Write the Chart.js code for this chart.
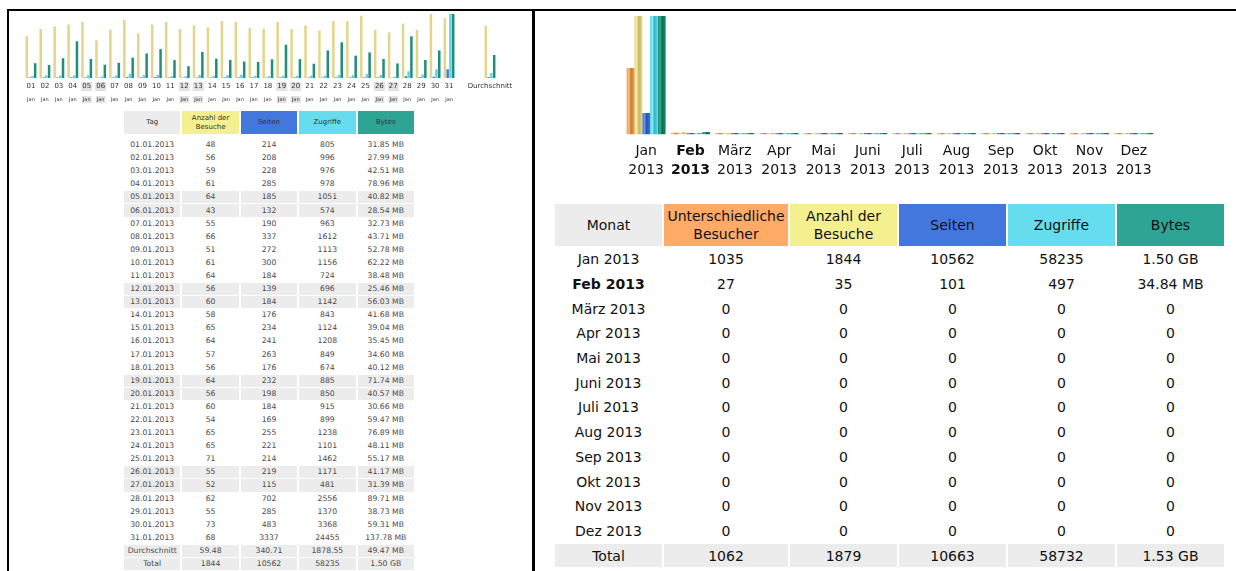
<!DOCTYPE html>
<html>
<head>
<meta charset="utf-8">
<script src="https://cdn.jsdelivr.net/npm/chart.js@4.4.0/dist/chart.umd.min.js"></script>
<style>
body { margin:0; width:1236px; height:571px; overflow:hidden; background:#fff; position:relative; font-family:'DejaVu Sans', Verdana, sans-serif; }
.line { position:absolute; background:#000; }
.wrap { position:absolute; }
table { position:absolute; border-collapse:separate; }
td { padding:0; text-align:center; white-space:nowrap; }
#dayTable { left:122px; top:110px; border-spacing:2px 1px; font-size:7.7px; color:#4a4a4a; }
#dayTable td { width:56.4px; height:12.1px; line-height:12px; }
#dayTable tr.head td { height:23px; line-height:9px; font-size:7px; color:#333; border-bottom:4px solid #fff; }
#monthTable { left:553px; top:202px; border-spacing:2px 2px; font-size:14px; color:#111; }
#monthTable td { width:107px; height:22.7px; line-height:18px; }
#monthTable tr.head td { height:42px; }
.gray td, td.gray { background:#ececec; }
.cu { background:#ffaa66; } .cv { background:#f4f090; } .cp { background:#4477dd; } .ch { background:#66ddee; } .ck { background:#2ea495; }
</style>
</head>
<body>
<div class="line" style="left:7px;top:9px;width:1229px;height:2px"></div>
<div class="line" style="left:7px;top:9px;width:2px;height:562px"></div>
<div class="line" style="left:532px;top:9px;width:3px;height:562px"></div>

<div class="wrap" style="left:20px;top:8px"><canvas id="dayChart" width="440" height="96"></canvas></div>
<div class="wrap" style="left:455px;top:8px"><canvas id="avgChart" width="70" height="96"></canvas></div>
<table id="dayTable"></table>

<div class="wrap" style="left:600px;top:8px"><canvas id="monthChart" width="580" height="179"></canvas></div>
<table id="monthTable"></table>

<script>
// Tage Januar 2013
const dayNum = ['01','02','03','04','05','06','07','08','09','10','11','12','13','14','15','16','17','18','19','20','21','22','23','24','25','26','27','28','29','30','31'];
const dayMonth = ['Jan','Jan','Jan','Jan','Jan','Jan','Jan','Jan','Jan','Jan','Jan','Jan','Jan','Jan','Jan','Jan','Jan','Jan','Jan','Jan','Jan','Jan','Jan','Jan','Jan','Jan','Jan','Jan','Jan','Jan','Jan'];
const weekendDays = ['05','06','12','13','19','20','26','27'];
const dayVisits = [48,56,59,61,64,43,55,66,51,61,64,56,60,58,65,64,57,56,64,56,60,54,65,65,71,55,52,62,55,73,68];
const dayPages = [214,208,228,285,185,132,190,337,272,300,184,139,184,176,234,241,263,176,232,198,184,169,255,221,214,219,115,702,285,483,3337];
const dayHits = [805,996,976,978,1051,574,963,1612,1113,1156,724,696,1142,843,1124,1208,849,674,885,850,915,899,1238,1101,1462,1171,481,2556,1370,3368,24455];
const dayBytes = [31.85,27.99,42.51,78.96,40.82,28.54,32.73,43.71,52.78,62.22,38.48,25.46,56.03,41.68,39.04,35.45,34.60,40.12,71.74,40.57,30.66,59.47,76.89,48.11,55.17,41.17,31.39,89.71,38.73,59.31,137.78];
const dayAvg = [59.48, 340.71, 1878.55, 49.47];
const dayTotal = ['1844', '10562', '58235', '1.50 GB'];

// Monate 2013
const months = ['Jan','Feb','März','Apr','Mai','Juni','Juli','Aug','Sep','Okt','Nov','Dez'];
const year = '2013';
const currentMonth = 1;
const monthUnique = [1035,27,0,0,0,0,0,0,0,0,0,0];
const monthVisits = [1844,35,0,0,0,0,0,0,0,0,0,0];
const monthPages = [10562,101,0,0,0,0,0,0,0,0,0,0];
const monthHits = [58235,497,0,0,0,0,0,0,0,0,0,0];
const monthBytes = [1536,34.84,0,0,0,0,0,0,0,0,0,0]; // MB
const monthTotal = ['1062','1879','10663','58732','1.53 GB'];

const FONT = "'DejaVu Sans', Verdana, sans-serif";

function fmtBytes(mb) {
  if (mb >= 1024) return (mb / 1024).toFixed(2) + ' GB';
  if (mb > 0) return mb.toFixed(2) + ' MB';
  return '0';
}

// ---- Tabelle Tage
let html = '<tr class="head"><td class="gray">Tag</td><td class="cv">Anzahl der<br>Besuche</td><td class="cp">Seiten</td><td class="ch">Zugriffe</td><td class="ck">Bytes</td></tr>';
dayNum.forEach(function (d, i) {
  const cls = weekendDays.includes(d) ? ' class="gray"' : '';
  html += '<tr' + cls + '><td>' + d + '.01.2013</td><td>' + dayVisits[i] + '</td><td>' + dayPages[i] + '</td><td>' + dayHits[i] + '</td><td>' + fmtBytes(dayBytes[i]) + '</td></tr>';
});
html += '<tr class="gray"><td>Durchschnitt</td><td>' + dayAvg[0].toFixed(2) + '</td><td>' + dayAvg[1].toFixed(2) + '</td><td>' + dayAvg[2].toFixed(2) + '</td><td>' + fmtBytes(dayAvg[3]) + '</td></tr>';
html += '<tr class="gray"><td>Total</td><td>' + dayTotal.join('</td><td>') + '</td></tr>';
document.getElementById('dayTable').innerHTML = html;

// ---- Tabelle Monate
html = '<tr class="head"><td class="gray">Monat</td><td class="cu" style="width:124px">Unterschiedliche<br>Besucher</td><td class="cv">Anzahl der<br>Besuche</td><td class="cp">Seiten</td><td class="ch">Zugriffe</td><td class="ck">Bytes</td></tr>';
months.forEach(function (m, i) {
  const st = i === currentMonth ? ' style="font-weight:bold"' : '';
  html += '<tr><td' + st + '>' + m + ' ' + year + '</td><td>' + monthUnique[i] + '</td><td>' + monthVisits[i] + '</td><td>' + monthPages[i] + '</td><td>' + monthHits[i] + '</td><td>' + fmtBytes(monthBytes[i]) + '</td></tr>';
});
html += '<tr class="gray"><td>Total</td><td>' + monthTotal.join('</td><td>') + '</td></tr>';
document.getElementById('monthTable').innerHTML = html;

// ---- Charts
function hiddenY(max) { return { display: false, min: 0, max: max }; }

function bar(data, color, axis) {
  return { data: data, backgroundColor: color, yAxisID: axis, borderWidth: 0 };
}

// horizontaler Verlauf wie die awstats-Balkenbilder
function shade(base, light, dark) {
  return function (c) {
    const el = c.element;
    if (!el || el.x === undefined || !el.width) return base;
    const g = c.chart.ctx.createLinearGradient(el.x - el.width / 2, 0, el.x + el.width / 2, 0);
    g.addColorStop(0, base);
    g.addColorStop(0.3, light);
    g.addColorStop(0.55, dark);
    g.addColorStop(1, base);
    return g;
  };
}

function smallAxis(labels, size, pad, backdrop) {
  return {
    type: 'category', labels: labels, offset: true,
    grid: { display: false, drawTicks: false }, border: { display: false },
    ticks: {
      autoSkip: false, maxRotation: 0, padding: pad, color: '#333',
      font: { family: FONT, size: size, lineHeight: 1 },
      showLabelBackdrop: backdrop, backdropColor: '#e2e2e2', backdropPadding: { x: 1, y: 1 }
    }
  };
}

const maxVisits = Math.max(...dayVisits);
const maxHits = Math.max(...dayHits);
const maxBytes = Math.max(...dayBytes);
const isWeekend = function (c) { return weekendDays.includes(dayNum[c.index]); };

const baseOpts = {
  responsive: false, animation: false,
  plugins: { legend: { display: false }, tooltip: { enabled: false } }
};

new Chart(document.getElementById('dayChart'), {
  type: 'bar',
  data: {
    labels: dayNum,
    datasets: [
      bar(dayVisits, '#e3d58a', 'yV'),
      bar(dayPages, '#4a78d8', 'yH'),
      bar(dayHits, '#5fd3e2', 'yH'),
      bar(dayBytes, '#1f8f78', 'yB')
    ]
  },
  options: Object.assign({}, baseOpts, {
    layout: { padding: { left: 4, right: 4, top: 6, bottom: 0 } },
    datasets: { bar: { categoryPercentage: 0.8, barPercentage: 0.9 } },
    scales: {
      x: smallAxis(dayNum, 7, 5, isWeekend),
      x2: smallAxis(dayMonth, 5, 2, isWeekend),
      yV: hiddenY(maxVisits), yH: hiddenY(maxHits), yB: hiddenY(maxBytes)
    }
  })
});

new Chart(document.getElementById('avgChart'), {
  type: 'bar',
  data: {
    labels: ['Durchschnitt'],
    datasets: [
      bar([dayAvg[0]], '#e3d58a', 'yV'),
      bar([dayAvg[1]], '#4a78d8', 'yH'),
      bar([dayAvg[2]], '#5fd3e2', 'yH'),
      bar([dayAvg[3]], '#1f8f78', 'yB')
    ]
  },
  options: Object.assign({}, baseOpts, {
    layout: { padding: { left: 0, right: 0, top: 6, bottom: 0 } },
    datasets: { bar: { categoryPercentage: 0.16, barPercentage: 0.9 } },
    scales: {
      x: smallAxis(['Durchschnitt'], 7, 5, false),
      x2: smallAxis([' '], 5, 2, false),
      yV: hiddenY(maxVisits), yH: hiddenY(maxHits), yB: hiddenY(maxBytes)
    }
  })
});

const monthChart = new Chart(document.getElementById('monthChart'), {
  type: 'bar',
  data: {
    labels: months.map(function (m) { return [m, year]; }),
    datasets: [
      bar(monthUnique, shade('#ee9e4e', '#f8bf80', '#c87c30'), 'yV'),
      bar(monthVisits, shade('#e4d682', '#f4eca8', '#c6b660'), 'yV'),
      bar(monthPages, shade('#3e6fd6', '#6a95ea', '#2a52ad'), 'yH'),
      bar(monthHits, shade('#58d8e8', '#8aeaf4', '#34b4c6'), 'yH'),
      bar(monthBytes, shade('#1a8c70', '#3aaa8e', '#0c6a52'), 'yB')
    ]
  },
  options: Object.assign({}, baseOpts, {
    layout: { padding: { left: 24, right: 24, top: 8, bottom: 0 } },
    datasets: { bar: { categoryPercentage: 0.88, barPercentage: 1.0, minBarLength: 1.5 } },
    scales: {
      x: {
        offset: true, grid: { display: false, drawTicks: false }, border: { display: false },
        ticks: {
          autoSkip: false, maxRotation: 0, padding: 8, color: '#111',
          font: function (c) {
            return { family: FONT, size: 14, lineHeight: 1.3, weight: c.index === currentMonth ? 'bold' : 'normal' };
          }
        }
      },
      yV: hiddenY(Math.max(...monthVisits)),
      yH: hiddenY(Math.max(...monthHits)),
      yB: hiddenY(Math.max(...monthBytes))
    }
  })
});
// zweiter Durchlauf, damit die Verläufe die Balkenpositionen kennen
monthChart.update('none');
</script>
</body>
</html>
